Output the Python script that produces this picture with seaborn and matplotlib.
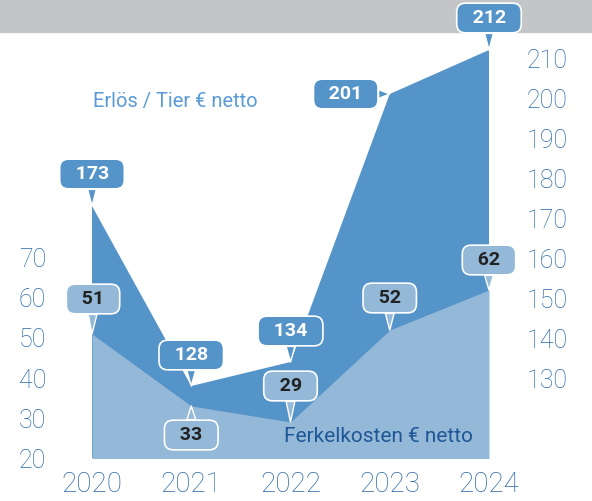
import numpy as np
import pandas as pd
import seaborn as sns
import matplotlib.pyplot as plt
from matplotlib.patches import Rectangle

# data
years = [2020, 2021, 2022, 2023, 2024]
erloes = [173, 128, 134, 201, 212]        # Erlös / Tier € netto (right axis)
ferkel = [51, 33, 29, 52, 62]             # Ferkelkosten € netto (left axis)
left_ticks = [20, 30, 40, 50, 60, 70]
right_ticks = [130, 140, 150, 160, 170, 180, 190, 200, 210]

# label offsets (pixels, relative to the point)
erloes_off = [(0, 32), (0, 31), (0, 31), (-44, 0), (0, 32)]
ferkel_off = [(1, 35), (0, -29), (0, 36), (0, 32), (0, 30)]

c_erl = '#5594C9'
c_fer = '#94B9D8'
c_tick = '#2A68A6'

sns.set_theme(style='white')
plt.rcParams['font.family'] = ['Roboto', 'DejaVu Sans']

df = pd.DataFrame({'year': years, 'erloes': erloes, 'ferkel': ferkel})

W, H = 592, 501
fig = plt.figure(figsize=(W / 100, H / 100), dpi=100)
fig.patches.append(Rectangle((0, 1 - 32 / H), 1, 32 / H, transform=fig.transFigure,
                             color='#C4C5C7', zorder=-1))

ax = fig.add_axes([92 / W, (H - 458) / H, 397 / W, (458 - 32) / H])
ax2 = ax.twinx()

ax.set_ylim(20, 126.5)
ax2.set_ylim(110, 216.5)
ax.set_xlim(2020, 2024)

# upper area (Erlös) on right axis, drawn behind
ax2.fill_between(df['year'], df['erloes'], 0, color=c_erl, lw=0)
sns.lineplot(data=df, x='year', y='erloes', ax=ax2, color=c_erl, lw=0)
# lower area (Ferkelkosten) on left axis
ax.fill_between(df['year'], df['ferkel'], 0, color=c_fer, lw=0)
sns.lineplot(data=df, x='year', y='ferkel', ax=ax, color=c_fer, lw=0)

ax.set_zorder(ax2.get_zorder() + 1)
ax.patch.set_visible(False)
ax2.patch.set_visible(False)


def callout(a, x, y, off, fc, tc):
    a.annotate(f'  {y}  ', xy=(x, y), xytext=(off[0] * 0.72, off[1] * 0.72),
               textcoords='offset points', ha='center', va='center',
               fontsize=14, fontweight='bold', color=tc, annotation_clip=False,
               bbox=dict(boxstyle='round,pad=0.3,rounding_size=0.45', fc=fc, ec='white', lw=1.2),
               arrowprops=dict(arrowstyle='wedge,tail_width=0.45,shrink_factor=0.5',
                               fc=fc, ec='white', lw=1.0, shrinkA=0, shrinkB=0))


for x, y, off in zip(years, erloes, erloes_off):
    callout(ax2, x, y, off, c_erl, 'white')
for x, y, off in zip(years, ferkel, ferkel_off):
    callout(ax, x, y, off, c_fer, '#222222')

ax.text(2020.01, 109, 'Erlös / Tier € netto', color='#5B9BD5', fontsize=14.5,
        ha='left', va='center')
ax.text(2021.93, 25.5, 'Ferkelkosten € netto', color='#1F5796', fontsize=15,
        ha='left', va='center')

for a in (ax, ax2):
    for s in a.spines.values():
        s.set_visible(False)
    a.set_xlabel('')
    a.set_ylabel('')

ax.set_xticks(years)
ax.set_xticklabels([str(y) for y in years])
ax.set_yticks(left_ticks)
ax2.set_yticks(right_ticks)
ax.tick_params(axis='x', length=0, pad=9, labelsize=20, labelcolor=c_tick)
ax.tick_params(axis='y', length=0, pad=33, labelsize=18, labelcolor=c_tick)
ax2.tick_params(axis='y', length=0, pad=27, labelsize=18, labelcolor=c_tick)
for lab in ax.get_xticklabels() + ax.get_yticklabels() + ax2.get_yticklabels():
    lab.set_fontweight('light')

fig.savefig('out.png', dpi=100)
